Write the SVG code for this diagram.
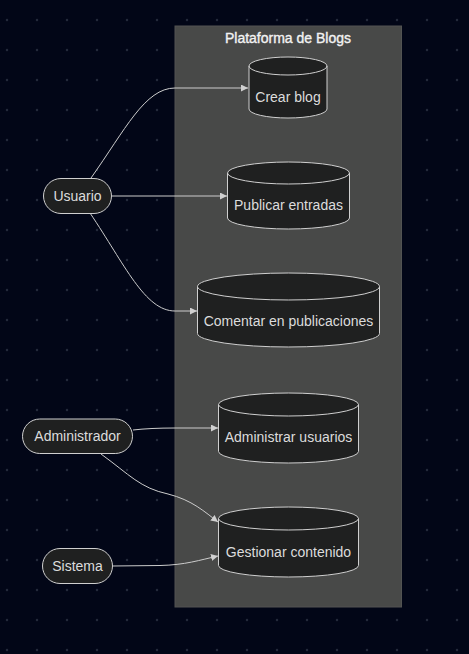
<svg xmlns="http://www.w3.org/2000/svg" width="469" height="654" viewBox="0 0 469 654">
<defs>
<pattern id="dots" width="30" height="30" patternUnits="userSpaceOnUse">
<circle cx="7" cy="20" r="1.2" fill="#232a3a"/>
</pattern>
<marker id="arr" viewBox="0 0 10 10" refX="10" refY="5" markerWidth="7" markerHeight="7" markerUnits="userSpaceOnUse" orient="auto">
<path d="M0,0 L10,5 L0,10 z" fill="#d0d0d0"/>
</marker>
</defs>
<style>
.node{fill:#1f2020;stroke:#cfcfcf;stroke-width:1}
.lbl{font-family:"Liberation Sans",Arial,sans-serif;font-size:14px;fill:#dcdcdc;text-anchor:middle}
.title{font-family:"Liberation Sans",Arial,sans-serif;font-size:14px;fill:#f2f2f2;stroke:#f2f2f2;stroke-width:0.35;text-anchor:middle}
.edge{fill:none;stroke:#cccccc;stroke-width:1;marker-end:url(#arr)}
</style>
<rect width="469" height="654" fill="#020617"/>
<rect width="469" height="654" fill="url(#dots)"/>
<g id="cluster">
<rect x="175" y="26" width="226.5" height="581" fill="#484948" stroke="#525352" stroke-width="1"/>
<text class="title" x="288" y="43">Plataforma de Blogs</text>
</g>
<g id="connectors">
<path class="edge" d="M91,178 C125,130 145,88 175,88 L248,88"/>
<path class="edge" d="M112,196 L227,196"/>
<path class="edge" d="M90,213 C125,265 145,311 175,311 L197,311"/>
<path class="edge" d="M133,430 Q150,428 175,428 L218,428"/>
<path class="edge" d="M101,454 C130,475 140,488 168,494 C192,500 205,512 218,522"/>
<path class="edge" d="M112,566 L160,565.5 C185,565 200,560 218,556"/>
</g>
<g id="usuario">
<rect class="node" x="43.5" y="178.5" width="68" height="35" rx="17.5"/>
<text class="lbl" x="77.5" y="201">Usuario</text>
</g>
<g id="administrador">
<rect class="node" x="22.5" y="419" width="110" height="34.5" rx="17.25"/>
<text class="lbl" x="77.5" y="441">Administrador</text>
</g>
<g id="sistema">
<rect class="node" x="42.5" y="548.5" width="70" height="35" rx="17.5"/>
<text class="lbl" x="77.5" y="571">Sistema</text>
</g>
<g id="crear-blog">
<path class="node" d="M249,66 a39,9 0 0 0 78,0 a39,9 0 0 0 -78,0 l0,43 a39,9 0 0 0 78,0 l0,-43"/>
<text class="lbl" x="288" y="102">Crear blog</text>
</g>
<g id="publicar-entradas">
<path class="node" d="M227.5,173 a61,11 0 0 0 122,0 a61,11 0 0 0 -122,0 l0,45 a61,11 0 0 0 122,0 l0,-45"/>
<text class="lbl" x="288.5" y="210">Publicar entradas</text>
</g>
<g id="comentar">
<path class="node" d="M197.5,286.5 a91,13.5 0 0 0 182,0 a91,13.5 0 0 0 -182,0 l0,47 a91,13.5 0 0 0 182,0 l0,-47"/>
<text class="lbl" x="288.5" y="326">Comentar en publicaciones</text>
</g>
<g id="administrar-usuarios">
<path class="node" d="M218.5,404.5 a70,11.5 0 0 0 140,0 a70,11.5 0 0 0 -140,0 l0,47 a70,11.5 0 0 0 140,0 l0,-47"/>
<text class="lbl" x="288.5" y="442">Administrar usuarios</text>
</g>
<g id="gestionar-contenido">
<path class="node" d="M218.5,518.5 a70,11.5 0 0 0 140,0 a70,11.5 0 0 0 -140,0 l0,47 a70,11.5 0 0 0 140,0 l0,-47"/>
<text class="lbl" x="288.5" y="557">Gestionar contenido</text>
</g>
</svg>
